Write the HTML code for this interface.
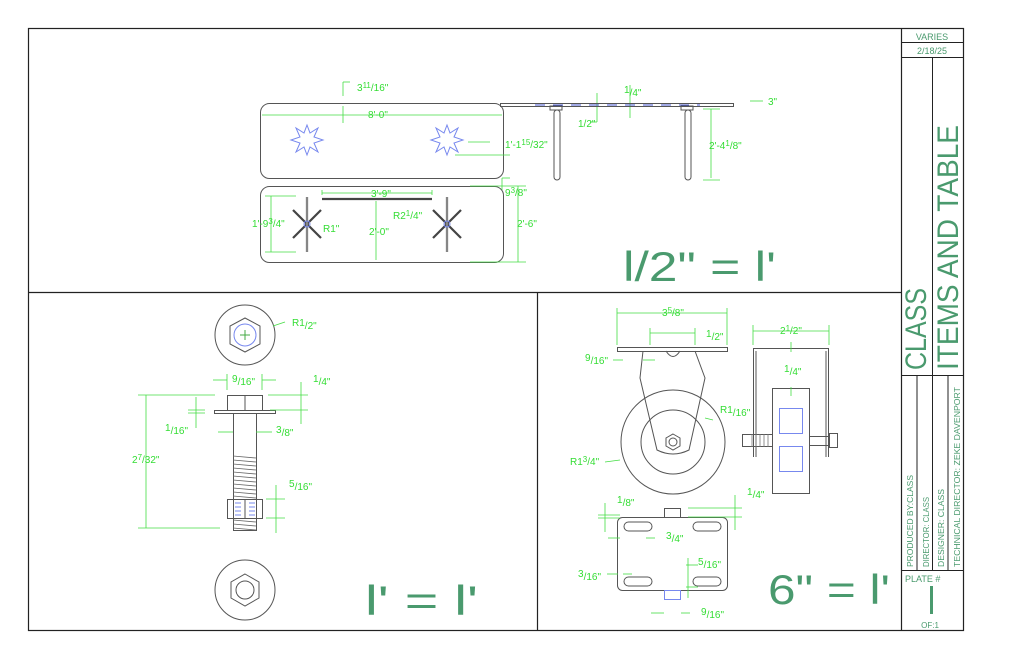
<!DOCTYPE html>
<html><head><meta charset="utf-8"><style>
html,body{margin:0;padding:0;background:#fff;}
svg{display:block;}
text{font-family:"Liberation Sans",sans-serif;}
.g{fill:#33dd33;font-size:10px;}
.d{stroke:#44dd44;stroke-width:0.8;fill:none;}
.l{stroke:#555;stroke-width:1;fill:none;}
.b{stroke:#7788ee;stroke-width:1;fill:none;}
.s{fill:#4a9a6e;font-size:42px;}
.t{fill:#4a9a6e;}
</style></head><body>
<svg width="1024" height="662" viewBox="0 0 1024 662" xmlns="http://www.w3.org/2000/svg">
<!-- frame -->
<rect x="28.5" y="28.5" width="935" height="602" fill="none" stroke="#222" stroke-width="1.2"/>
<line x1="28" y1="292.5" x2="901" y2="292.5" stroke="#222" stroke-width="1.2"/>
<line x1="537.5" y1="292" x2="537.5" y2="630" stroke="#222" stroke-width="1.2"/>
<line x1="901.5" y1="28" x2="901.5" y2="630" stroke="#222" stroke-width="1.2"/>
<!-- title block -->
<line x1="901" y1="42.5" x2="963" y2="42.5" stroke="#222"/>
<line x1="901" y1="57.5" x2="963" y2="57.5" stroke="#222"/>
<line x1="932.5" y1="57" x2="932.5" y2="375" stroke="#222"/>
<line x1="901" y1="375.5" x2="963" y2="375.5" stroke="#222"/>
<line x1="917" y1="375" x2="917" y2="570" stroke="#222"/>
<line x1="932.5" y1="375" x2="932.5" y2="570" stroke="#222"/>
<line x1="948" y1="375" x2="948" y2="570" stroke="#222"/>
<line x1="901" y1="570.5" x2="963" y2="570.5" stroke="#222"/>
<text x="932" y="40" class="t" font-size="9" text-anchor="middle">VARIES</text>
<text x="932" y="54" class="t" font-size="9" text-anchor="middle">2/18/25</text>
<text class="t" font-size="30" transform="translate(926,370) rotate(-90)" textLength="82" lengthAdjust="spacingAndGlyphs">CLASS</text>
<text class="t" font-size="30" transform="translate(958,370) rotate(-90)" textLength="245" lengthAdjust="spacingAndGlyphs">ITEMS AND TABLE</text>
<text class="t" font-size="8" transform="translate(913,567) rotate(-90)" textLength="92" lengthAdjust="spacingAndGlyphs">PRODUCED BY:CLASS</text>
<text class="t" font-size="8" transform="translate(929,567) rotate(-90)" textLength="70" lengthAdjust="spacingAndGlyphs">DIRECTOR: CLASS</text>
<text class="t" font-size="8" transform="translate(944,567) rotate(-90)" textLength="78" lengthAdjust="spacingAndGlyphs">DESIGNER: CLASS</text>
<text class="t" font-size="8" transform="translate(960,567) rotate(-90)" textLength="180" lengthAdjust="spacingAndGlyphs">TECHNICAL DIRECTOR: ZEKE DAVENPORT</text>
<text x="905" y="582" class="t" font-size="9">PLATE #</text>
<rect x="930" y="586" width="3" height="28" fill="#4a9a6e"/>
<text x="930" y="628" class="t" font-size="8" text-anchor="middle">OF:1</text>

<!-- scales -->
<text x="623" y="281" class="s" textLength="153" lengthAdjust="spacingAndGlyphs">l/2" = l'</text>
<text x="365" y="615" class="s" textLength="113" lengthAdjust="spacingAndGlyphs">l' = l'</text>
<text x="768" y="604" class="s" textLength="122" lengthAdjust="spacingAndGlyphs">6" = l'</text>

<!-- TABLE top -->
<rect x="260.5" y="103.5" width="243" height="75" rx="9" class="l"/>
<rect x="260.5" y="186.5" width="243" height="76" rx="9" class="l"/>
<g class="b">
<path d="M307,125 l3,8 l8,-5 l-4,9 l9,3 l-9,3 l4,9 l-8,-5 l-3,8 l-3,-8 l-8,5 l4,-9 l-9,-3 l9,-3 l-4,-9 l8,5z"/>
<path d="M447,125 l3,8 l8,-5 l-4,9 l9,3 l-9,3 l4,9 l-8,-5 l-3,8 l-3,-8 l-8,5 l4,-9 l-9,-3 l9,-3 l-4,-9 l8,5z"/>
</g>
<g stroke="#444" stroke-width="2.2">
<line x1="307" y1="197" x2="307" y2="252"/><line x1="293" y1="210" x2="321" y2="238"/><line x1="321" y1="210" x2="293" y2="238"/>
<line x1="447" y1="197" x2="447" y2="252"/><line x1="433" y1="210" x2="461" y2="238"/><line x1="461" y1="210" x2="433" y2="238"/>
<line x1="322" y1="199" x2="432" y2="199"/>
</g>
<g stroke="#fff" stroke-width="0.7">
<line x1="307" y1="197" x2="307" y2="252"/><line x1="447" y1="197" x2="447" y2="252"/>
</g>
<circle cx="307" cy="224" r="3" class="b"/><circle cx="447" cy="224" r="3" class="b"/>
<g class="d">
<line x1="262" y1="115" x2="502" y2="115"/><line x1="343" y1="106" x2="343" y2="123"/>
<line x1="343" y1="82" x2="343" y2="96"/><line x1="343" y1="82" x2="350" y2="82"/>
<line x1="322" y1="190" x2="322" y2="195"/><line x1="432" y1="190" x2="432" y2="195"/><line x1="322" y1="193" x2="432" y2="193"/>
<line x1="376" y1="201" x2="376" y2="260"/>
<line x1="271" y1="196" x2="271" y2="252"/><line x1="265" y1="196" x2="296" y2="196"/><line x1="265" y1="252" x2="296" y2="252"/>
<line x1="518" y1="186" x2="518" y2="262"/><line x1="470" y1="186" x2="526" y2="186"/><line x1="470" y1="262" x2="526" y2="262"/>
<line x1="468" y1="142" x2="490" y2="142"/><line x1="455" y1="155" x2="510" y2="155"/>
<line x1="502" y1="178" x2="510" y2="178"/><line x1="502" y1="178" x2="502" y2="190"/>
<line x1="597" y1="93" x2="597" y2="122"/><line x1="590" y1="122" x2="597" y2="122"/>
<line x1="630" y1="85" x2="630" y2="118"/>
<line x1="711" y1="109" x2="711" y2="178"/><line x1="703" y1="109" x2="720" y2="109"/><line x1="703" y1="180" x2="720" y2="180"/>
<line x1="750" y1="101" x2="763" y2="101"/>
</g>
<text x="357" y="91" class="g">3<tspan font-size="8" dy="-3">11</tspan><tspan dy="3">/16"</tspan></text>
<text x="368" y="118" class="g">8'-0"</text>
<text x="371" y="197" class="g">3'-9"</text>
<text x="369" y="235" class="g">2'-0"</text>
<text x="252" y="227" class="g">1'-9<tspan font-size="8" dy="-3">3</tspan><tspan dy="3">/4"</tspan></text>
<text x="323" y="232" class="g">R1"</text>
<text x="393" y="219" class="g">R2<tspan font-size="8" dy="-3">1</tspan><tspan dy="3">/4"</tspan></text>
<text x="517" y="227" class="g">2'-6"</text>
<text x="505" y="196" class="g">9<tspan font-size="8" dy="-3">3</tspan><tspan dy="3">/8"</tspan></text>
<text x="505" y="148" class="g">1'-1<tspan font-size="8" dy="-3">15</tspan><tspan dy="3">/32"</tspan></text>
<text x="578" y="127" class="g">1/2"</text>
<text x="624" y="93" class="g">1<tspan dy="3">/4"</tspan></text>
<text x="709" y="149" class="g">2'-4<tspan font-size="8" dy="-3">1</tspan><tspan dy="3">/8"</tspan></text>
<text x="768" y="105" class="g">3"</text>
<!-- side view table -->
<rect x="500.5" y="103.5" width="233" height="3" class="l"/>
<line x1="535" y1="105" x2="700" y2="105" stroke="#4455cc" stroke-dasharray="10,8"/>
<rect x="550" y="106" width="12" height="4" class="l"/><rect x="681" y="106" width="12" height="4" class="l"/>
<rect x="554" y="110" width="6" height="70" rx="3" class="l"/><rect x="685" y="110" width="6" height="70" rx="3" class="l"/>

<!-- BOLT -->
<circle cx="245" cy="335" r="30" class="l"/>
<path d="M245,318 L260,326 L260,344 L245,352 L230,344 L230,326Z" class="l"/>
<circle cx="245" cy="335" r="11" class="b"/>
<line x1="240" y1="335" x2="250" y2="335" stroke="#4a4"/><line x1="245" y1="330" x2="245" y2="340" stroke="#4a4"/>
<rect x="227.5" y="395.5" width="35" height="15" class="l"/><line x1="245" y1="395" x2="245" y2="410" stroke="#555"/>
<rect x="214.5" y="410.5" width="61" height="3" class="l"/>
<rect x="233.5" y="413.5" width="23" height="117" class="l"/>
<g stroke="#666" stroke-width="0.8">
<path d="M233,456 l23,2 M233,460 l23,2 M233,464 l23,2 M233,468 l23,2 M233,472 l23,2 M233,476 l23,2 M233,480 l23,2 M233,484 l23,2 M233,488 l23,2 M233,492 l23,2 M233,496 l23,2 M233,520 l23,2 M233,524 l23,2 M233,528 l23,2"/>
</g>
<rect x="227.5" y="499.5" width="35" height="19" fill="#fff" class="l"/>
<line x1="245" y1="499" x2="245" y2="518" stroke="#555"/>
<g class="b"><path d="M235,503 h6 M235,507 h6 M235,511 h6 M235,515 h6 M249,503 h6 M249,507 h6 M249,511 h6 M249,515 h6"/></g>
<circle cx="245" cy="590" r="30" class="l"/>
<path d="M245,574 L259,582 L259,598 L245,606 L231,598 L231,582Z" class="l"/>
<circle cx="245" cy="590" r="9" class="l"/>
<g class="d">
<line x1="138" y1="395" x2="215" y2="395"/><line x1="138" y1="528" x2="220" y2="528"/><line x1="146" y1="395" x2="146" y2="528"/>
<line x1="227" y1="374" x2="227" y2="390"/><line x1="262" y1="374" x2="262" y2="390"/><line x1="213" y1="380" x2="227" y2="380"/><line x1="262" y1="380" x2="276" y2="380"/>
<line x1="188" y1="410" x2="205" y2="410"/><line x1="188" y1="413" x2="205" y2="413"/><line x1="196" y1="397" x2="196" y2="428"/>
<line x1="268" y1="395" x2="308" y2="395"/><line x1="270" y1="410" x2="308" y2="410"/><line x1="301" y1="382" x2="301" y2="424"/>
<line x1="218" y1="432" x2="233" y2="432"/><line x1="256" y1="432" x2="272" y2="432"/>
<line x1="266" y1="499" x2="285" y2="499"/><line x1="266" y1="518" x2="285" y2="518"/><line x1="276" y1="485" x2="276" y2="533"/>
<line x1="273" y1="326" x2="285" y2="322"/>
</g>
<text x="232" y="382" class="g">9<tspan dy="3">/16"</tspan></text>
<text x="313" y="382" class="g">1<tspan dy="3">/4"</tspan></text>
<text x="165" y="431" class="g">1<tspan dy="3">/16"</tspan></text>
<text x="276" y="433" class="g">3<tspan dy="3">/8"</tspan></text>
<text x="132" y="463" class="g">2<tspan font-size="8" dy="-3">7</tspan><tspan dy="3">/32"</tspan></text>
<text x="289" y="487" class="g">5<tspan dy="3">/16"</tspan></text>
<text x="292" y="326" class="g">R1<tspan dy="3">/2"</tspan></text>

<!-- CASTER -->
<rect x="617.5" y="347.5" width="110" height="4" class="l"/>
<circle cx="673" cy="442" r="52" class="l"/>
<circle cx="673" cy="442" r="32" class="l"/>
<path d="M643,351 L640,378 L657,450 Q673,458 689,450 L705,378 L695,351" fill="#fff" class="l"/>
<path d="M666,351 Q673,362 680,351" class="l"/>
<path d="M673,434 L680,438 L680,446 L673,450 L666,446 L666,438Z" class="l"/>
<circle cx="673" cy="442" r="4" class="l"/>
<path d="M753.5,348 V457 M828.5,348 V457 M753,348.5 H829 M756,351 V457 M826,351 V457" class="l"/>
<rect x="772.5" y="388.5" width="37" height="105" fill="#fff" class="l"/>
<rect x="779.5" y="408.5" width="23" height="25" class="b"/><rect x="779.5" y="446.5" width="23" height="25" class="b"/>
<rect x="742.5" y="434.5" width="30" height="12" class="l"/><rect x="809.5" y="436.5" width="20" height="9" class="l"/><rect x="829.5" y="433.5" width="8" height="14" class="l"/>
<path d="M752,434 v13 M756,434 v13 M760,434 v13 M764,434 v13 M768,434 v13" stroke="#777" stroke-width="0.8"/>
<rect x="617.5" y="517.5" width="110" height="73" rx="5" class="l"/>
<rect x="664.5" y="508.5" width="16" height="9" class="l"/>
<rect x="664.5" y="590.5" width="16" height="9" class="b"/>
<g class="l"><rect x="624" y="522" width="28" height="9" rx="4.5"/><rect x="693" y="522" width="28" height="9" rx="4.5"/><rect x="624" y="577" width="28" height="9" rx="4.5"/><rect x="693" y="577" width="28" height="9" rx="4.5"/></g>
<g class="d">
<line x1="617" y1="308" x2="617" y2="345"/><line x1="727" y1="308" x2="727" y2="345"/><line x1="617" y1="313" x2="727" y2="313"/>
<line x1="650" y1="333" x2="695" y2="333"/><line x1="650" y1="328" x2="650" y2="345"/><line x1="695" y1="328" x2="695" y2="345"/>
<line x1="613" y1="360" x2="623" y2="360"/><line x1="643" y1="360" x2="655" y2="360"/>
<line x1="753" y1="325" x2="753" y2="345"/><line x1="829" y1="325" x2="829" y2="345"/><line x1="753" y1="331" x2="829" y2="331"/>
<line x1="791" y1="342" x2="791" y2="352"/><line x1="791" y1="387" x2="791" y2="396"/>
<line x1="713" y1="420" x2="705" y2="418"/><line x1="605" y1="462" x2="620" y2="460"/>
<line x1="598" y1="515" x2="620" y2="515"/><line x1="598" y1="518" x2="620" y2="518"/><line x1="605" y1="503" x2="605" y2="532"/>
<line x1="688" y1="508" x2="742" y2="508"/><line x1="688" y1="517" x2="742" y2="517"/><line x1="735" y1="495" x2="735" y2="530"/>
<line x1="608" y1="538" x2="620" y2="538"/><line x1="646" y1="538" x2="655" y2="538"/>
<line x1="607" y1="574" x2="618" y2="574"/><line x1="623" y1="574" x2="632" y2="574"/>
<line x1="686" y1="565" x2="698" y2="565"/><line x1="686" y1="587" x2="698" y2="587"/><line x1="688" y1="558" x2="688" y2="598"/>
<line x1="651" y1="613" x2="664" y2="613"/><line x1="681" y1="613" x2="690" y2="613"/>
</g>
<text x="662" y="316" class="g">3<tspan font-size="8" dy="-3">5</tspan><tspan dy="3">/8"</tspan></text>
<text x="706" y="337" class="g">1<tspan dy="3">/2"</tspan></text>
<text x="585" y="361" class="g">9<tspan dy="3">/16"</tspan></text>
<text x="780" y="334" class="g">2<tspan font-size="8" dy="-3">1</tspan><tspan dy="3">/2"</tspan></text>
<text x="784" y="372" class="g">1<tspan dy="3">/4"</tspan></text>
<text x="720" y="413" class="g">R1<tspan dy="3">/16"</tspan></text>
<text x="570" y="465" class="g">R1<tspan font-size="8" dy="-3">3</tspan><tspan dy="3">/4"</tspan></text>
<text x="617" y="503" class="g">1<tspan dy="3">/8"</tspan></text>
<text x="747" y="495" class="g">1<tspan dy="3">/4"</tspan></text>
<text x="666" y="539" class="g">3<tspan dy="3">/4"</tspan></text>
<text x="698" y="565" class="g">5<tspan dy="3">/16"</tspan></text>
<text x="578" y="577" class="g">3<tspan dy="3">/16"</tspan></text>
<text x="701" y="615" class="g">9<tspan dy="3">/16"</tspan></text>
</svg>
</body></html>
